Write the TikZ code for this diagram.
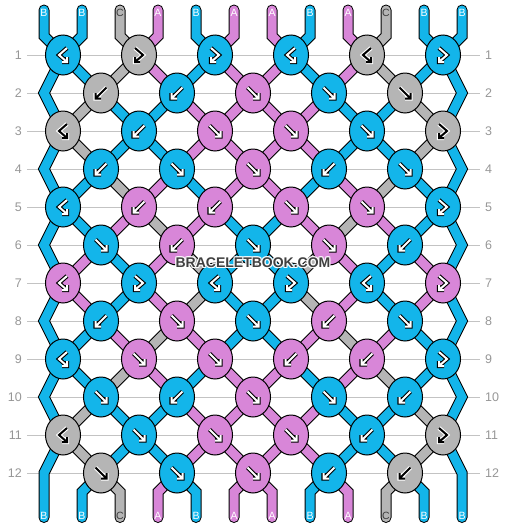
\documentclass[tikz,border=0pt]{standalone}
\usepackage{fontspec}
\setmainfont{Liberation Sans}
\usetikzlibrary{shapes.geometric}
\definecolor{cA}{RGB}{216,134,216}
\definecolor{cB}{RGB}{19,181,234}
\definecolor{cC}{RGB}{181,181,181}
\colorlet{tA}{white}
\colorlet{tB}{white}
\definecolor{tC}{RGB}{60,60,60}
\definecolor{gridc}{RGB}{195,195,195}
\definecolor{numc}{RGB}{150,150,150}
\definecolor{wmc}{RGB}{64,64,64}
\pgfdeclarelayer{grid}\pgfdeclarelayer{so}\pgfdeclarelayer{sf}
\pgfsetlayers{grid,so,sf,main}
\newcommand\strand[2]{%
 \begin{pgfonlayer}{so}\draw[strandout] #2;\end{pgfonlayer}%
 \begin{pgfonlayer}{sf}\draw[strandin,draw=c#1] #2;\end{pgfonlayer}}
\def\arrF{(-5.5,-5.5) -- (5.5,5.5) (0,5.5) -- (5.5,5.5) -- (5.5,0)}
\def\arrB{(5.5,-5.5) -- (-5.5,5.5) (0,5.5) -- (-5.5,5.5) -- (-5.5,0)}
\def\arrbf{(4,-7) -- (-4,0) -- (4,7) (-1,7) -- (4,7) -- (4,2)}
\def\arrfb{(-4,-7) -- (4,0) -- (-4,7) (1,7) -- (-4,7) -- (-4,2)}
\tikzset{
 knot/.style={ellipse,draw=black,line width=1,minimum width=35,minimum height=40,inner sep=0},
 strandout/.style={line width=11,black,line cap=round,line join=miter},
 strandin/.style={line width=9,line cap=round,line join=miter},
 arrout/.style={line width=4.2,line join=miter},
 arrin/.style={line width=2,line join=miter},
 num/.style={text=numc,font=\fontsize{12.5}{12.5}\selectfont,inner sep=0},
 lab/.style={font=\fontsize{10.5}{10.5}\selectfont,inner sep=0},
 gridline/.style={gridc,line width=1},
 wm/.style={font=\bfseries\fontsize{14}{14}\selectfont,inner sep=0},
}
\begin{document}
\begin{tikzpicture}[x=1pt,y=-1pt]
\useasboundingbox (0,0) rectangle (506,528);
% row numbers and guide lines
\foreach \r in {1,...,12}{
 \pgfmathsetmacro\ry{17+38*\r}
 \node[num,anchor=east] (ln\r) at (22,\ry) {\r};
 \node[num,anchor=west] (rn\r) at (485,\ry) {\r};
 \begin{pgfonlayer}{grid}\draw[gridline] (27,\ry) -- (480,\ry);\end{pgfonlayer}
}
% knots
\foreach \r/\K in {
1/{B/bf,C/fb,B/fb,B/bf,C/bf,B/fb},
2/{C/B,B/B,A/F,B/F,C/F},
3/{C/bf,B/B,A/F,A/F,B/F,C/fb},
4/{B/B,B/F,A/F,B/B,B/F},
5/{B/bf,A/B,A/B,A/F,A/F,B/fb},
6/{B/F,A/B,B/F,A/F,B/B},
7/{A/bf,B/fb,B/bf,B/fb,B/bf,A/fb},
8/{B/B,A/F,B/F,A/B,B/F},
9/{B/bf,A/F,A/F,A/B,A/B,B/fb},
10/{B/F,B/B,A/F,B/F,B/B},
11/{C/bf,B/F,A/F,A/F,B/B,C/fb},
12/{C/F,B/F,A/F,B/B,C/B}}{
 \pgfmathsetmacro\ky{17+38*\r}
 \foreach \col/\ty [count=\k] in \K {
   \ifodd\r\relax \pgfmathsetmacro\kx{-13+76*\k}\else \pgfmathsetmacro\kx{25+76*\k}\fi
   \node[knot,fill=c\col] (k-\r-\k) at (\kx,\ky) {};
   \begin{scope}[shift={(k-\r-\k.center)}]
   \if C\col
     \draw[arrout,white] \csname arr\ty\endcsname;
     \draw[arrin,black] \csname arr\ty\endcsname;
   \else
     \draw[arrout,black] \csname arr\ty\endcsname;
     \draw[arrin,white] \csname arr\ty\endcsname;
   \fi
   \end{scope}
 }
}
% top strands and labels
\foreach \c [count=\p] in {B,B,C,A,B,A,A,B,A,C,B,B}{
 \pgfmathsetmacro\px{6+38*\p}
 \pgfmathtruncatemacro\s{(\p+1)/2}
 \coordinate (top\p) at (\px,10);
 \coordinate (bot\p) at (\px,517.5);
 \node[lab,text=t\c] (lt\p) at (\px,12.5) {\c};
 \node[lab,text=t\c] (lb\p) at (\px,516) {\c};
 \strand{\c}{(top\p) -- (\px,36) -- (k-1-\s.center)}
}
% strands between rows
\foreach \r/\L in {
1/{B,B,C,A,B,A,A,B,A,C,B,B},
2/{B,C,B,B,A,A,A,A,B,B,C,B},
3/{B,C,B,B,A,A,A,A,B,B,C,B},
4/{B,B,C,A,B,A,A,B,A,C,B,B},
5/{B,B,A,C,A,B,B,A,C,A,B,B},
6/{B,A,B,A,C,B,B,C,A,B,A,B},
7/{B,A,B,A,C,B,B,C,A,B,A,B},
8/{B,B,A,C,A,B,B,A,C,A,B,B},
9/{B,B,C,A,B,A,A,B,A,C,B,B},
10/{B,C,B,B,A,A,A,A,B,B,C,B},
11/{B,C,B,B,A,A,A,A,B,B,C,B},
12/{B,B,C,A,B,A,A,B,A,C,B,B}}{
 \pgfmathtruncatemacro\rn{\r+1}
 \pgfmathtruncatemacro\rr{\r+2}
 \pgfmathsetmacro\ya{17+38*(\r+1)}
 \foreach \c [count=\p] in \L {
  \pgfmathsetmacro\px{6+38*\p}
  \pgfmathtruncatemacro\edge{(\p==1)||(\p==12)}
  \ifodd\r\relax
   \pgfmathtruncatemacro\s{(\p+1)/2}
   \ifnum\edge=1\relax
     \ifnum\r=11\relax \strand{\c}{(k-\r-\s.center) -- (\px,473) -- (bot\p)}%
     \else \strand{\c}{(k-\r-\s.center) -- (\px,\ya) -- (k-\rr-\s.center)}\fi
   \else
     \pgfmathtruncatemacro\t{\p/2}
     \strand{\c}{(k-\r-\s.center) -- (k-\rn-\t.center)}%
   \fi
  \else
   \ifnum\edge=0\relax
     \pgfmathtruncatemacro\s{\p/2}
     \pgfmathtruncatemacro\t{(\p+1)/2}
     \ifnum\r=12\relax \strand{\c}{(k-\r-\s.center) -- (\px,492) -- (bot\p)}%
     \else \strand{\c}{(k-\r-\s.center) -- (k-\rn-\t.center)}\fi
   \fi
  \fi
 }
}
% watermark
\foreach \dx/\dy [count=\i] in {-1/-1,0/-1,1/-1,-1/0,1/0,-1/1,0/1,1/1}{
 \node[wm,text=white,opacity=0.85] (wmh\i) at (253+\dx,263+\dy) {BRACELETBOOK.COM};
}
\node[wm,text=wmc] (wm) at (253,263) {BRACELETBOOK.COM};
\end{tikzpicture}
\end{document}
